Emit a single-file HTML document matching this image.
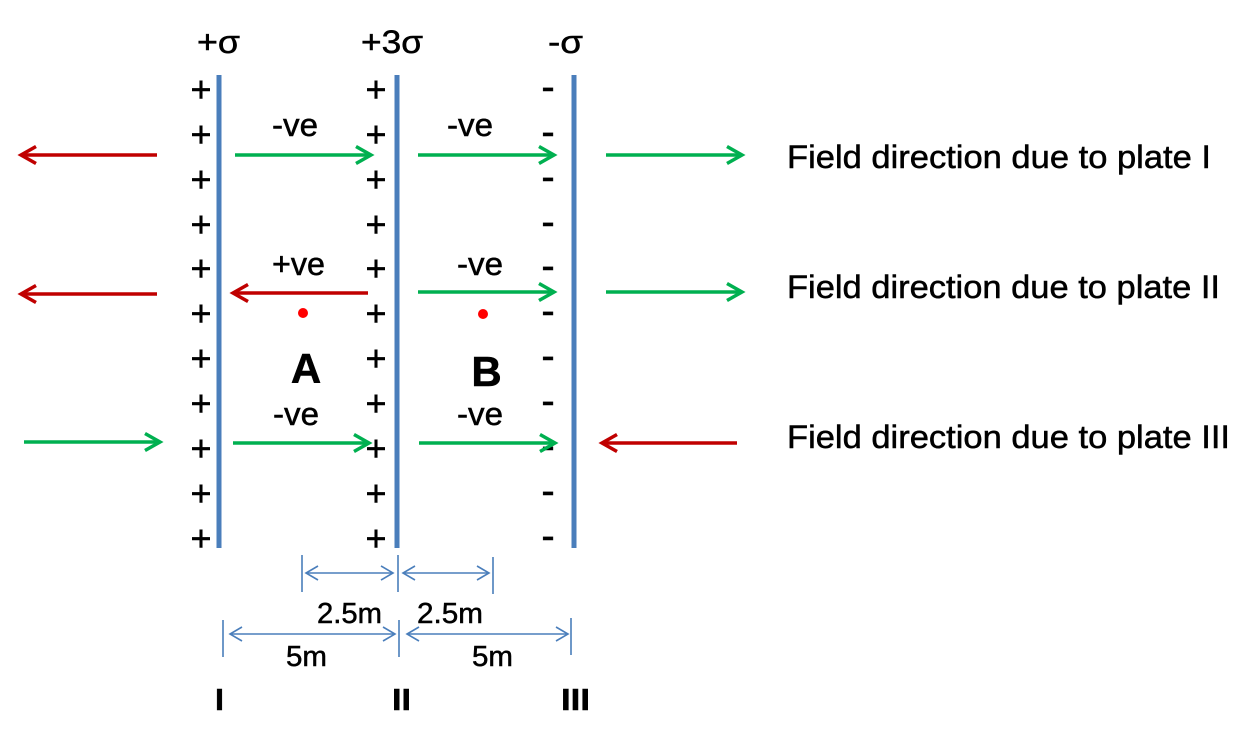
<!DOCTYPE html>
<html><head><meta charset="utf-8"><style>
html,body{margin:0;padding:0;background:#fff;}
svg{display:block;}
text{font-family:"Liberation Sans",sans-serif;fill:#000;stroke:#000;stroke-width:0.5;}
</style></head><body>
<svg width="1257" height="729" viewBox="0 0 1257 729" xmlns="http://www.w3.org/2000/svg">
<rect width="1257" height="729" fill="#fff"/>
<!-- plates -->
<rect x="216.5" y="75" width="5" height="473" fill="#4a7ebb"/>
<rect x="394.5" y="75" width="5" height="473" fill="#4a7ebb"/>
<rect x="571.5" y="75" width="5" height="473" fill="#4a7ebb"/>

<!-- top labels -->
<text x="197" y="53" font-size="32" textLength="43" lengthAdjust="spacingAndGlyphs">+σ</text>
<text x="361" y="53" font-size="32" textLength="62" lengthAdjust="spacingAndGlyphs">+3σ</text>
<text x="548" y="53" font-size="32" textLength="35" lengthAdjust="spacingAndGlyphs">-σ</text>

<!-- plus / minus signs -->
<g font-size="36" text-anchor="middle">
<text x="201" y="101.5">+</text><text x="201" y="146.5">+</text><text x="201" y="191.5">+</text><text x="201" y="236.5">+</text><text x="201" y="280.5">+</text><text x="201" y="325.5">+</text><text x="201" y="370.5">+</text><text x="201" y="415.5">+</text><text x="201" y="460.5">+</text><text x="201" y="505.5">+</text><text x="201" y="550.5">+</text>
<text x="376" y="101.5">+</text><text x="376" y="146.5">+</text><text x="376" y="191.5">+</text><text x="376" y="236.5">+</text><text x="376" y="280.5">+</text><text x="376" y="325.5">+</text><text x="376" y="370.5">+</text><text x="376" y="415.5">+</text><text x="376" y="460.5">+</text><text x="376" y="505.5">+</text><text x="376" y="550.5">+</text>
</g>
<g font-size="40" text-anchor="middle">
<text x="548" y="100">-</text><text x="548" y="145">-</text><text x="548" y="190">-</text><text x="548" y="235">-</text><text x="548" y="279">-</text><text x="548" y="324">-</text><text x="548" y="369">-</text><text x="548" y="414">-</text><text x="548" y="459">-</text><text x="548" y="504">-</text><text x="548" y="549">-</text>
</g>

<!-- ve labels -->
<g font-size="32">
<text x="272" y="136" textLength="46" lengthAdjust="spacingAndGlyphs">-ve</text>
<text x="272" y="275" textLength="53" lengthAdjust="spacingAndGlyphs">+ve</text>
<text x="273" y="425" textLength="46" lengthAdjust="spacingAndGlyphs">-ve</text>
<text x="447" y="136" textLength="46" lengthAdjust="spacingAndGlyphs">-ve</text>
<text x="457" y="275" textLength="46" lengthAdjust="spacingAndGlyphs">-ve</text>
<text x="457" y="425" textLength="46" lengthAdjust="spacingAndGlyphs">-ve</text>
</g>

<!-- A / B -->
<text x="306" y="383" font-size="42" font-weight="bold" text-anchor="middle">A</text>
<text x="486.5" y="386" font-size="42" font-weight="bold" text-anchor="middle">B</text>
<circle cx="303" cy="313" r="5" fill="#ff0000"/>
<circle cx="483" cy="314" r="5" fill="#ff0000"/>

<!-- field arrows -->
<g fill="none" stroke-width="3.5" stroke-linecap="butt" stroke-linejoin="miter">
<g stroke="#c00000">
<line x1="157" y1="155" x2="22" y2="155"/><polyline points="36,146.5 21,155 36,163.5"/>
</g>
<g stroke="#00b050">
<line x1="235" y1="155" x2="370" y2="155"/><polyline points="356,146.5 371,155 356,163.5"/>
<line x1="418" y1="155" x2="553" y2="155"/><polyline points="539,146.5 554,155 539,163.5"/>
<line x1="606" y1="155" x2="741" y2="155"/><polyline points="727,146.5 742,155 727,163.5"/>
</g>
<g stroke="#c00000">
<line x1="157" y1="294" x2="22" y2="294"/><polyline points="36,285.5 21,294 36,302.5"/>
<line x1="368" y1="293" x2="234" y2="293"/><polyline points="248,284.5 233,293 248,301.5"/>
</g>
<g stroke="#00b050">
<line x1="418" y1="292" x2="553" y2="292"/><polyline points="539,283.5 554,292 539,300.5"/>
<line x1="606" y1="292" x2="741" y2="292"/><polyline points="727,283.5 742,292 727,300.5"/>
</g>
<g stroke="#00b050">
<line x1="24" y1="442" x2="159" y2="442"/><polyline points="145,433.5 160,442 145,450.5"/>
<line x1="233" y1="443" x2="368" y2="443"/><polyline points="354,434.5 369,443 354,451.5"/>
<line x1="419" y1="443" x2="554" y2="443"/><polyline points="540,434.5 555,443 540,451.5"/>
</g>
<g stroke="#c00000">
<line x1="737" y1="443" x2="603" y2="443"/><polyline points="617,434.5 602,443 617,451.5"/>
</g>
</g>

<!-- right labels -->
<g font-size="32">
<text x="787" y="168" textLength="424" lengthAdjust="spacingAndGlyphs">Field direction due to plate I</text>
<text x="787" y="298" textLength="433" lengthAdjust="spacingAndGlyphs">Field direction due to plate II</text>
<text x="787" y="448" textLength="443" lengthAdjust="spacingAndGlyphs">Field direction due to plate III</text>
</g>

<!-- dimension lines -->
<g fill="none" stroke="#4a7ebb" stroke-width="1.6">
<line x1="302" y1="555" x2="302" y2="592"/>
<line x1="398" y1="555" x2="398" y2="592"/>
<line x1="493" y1="557" x2="493" y2="594"/>
<line x1="306" y1="573" x2="393" y2="573"/>
<polyline points="318,566 306,573 318,580"/><polyline points="381,566 393,573 381,580"/>
<line x1="403" y1="573" x2="489" y2="573"/>
<polyline points="415,566 403,573 415,580"/><polyline points="477,566 489,573 477,580"/>

<line x1="223" y1="620" x2="223" y2="657"/>
<line x1="399" y1="620" x2="399" y2="657"/>
<line x1="571" y1="618" x2="571" y2="655"/>
<line x1="230" y1="634" x2="395" y2="634"/>
<polyline points="242,627 230,634 242,641"/><polyline points="383,627 395,634 383,641"/>
<line x1="407" y1="634" x2="568" y2="634"/>
<polyline points="419,627 407,634 419,641"/><polyline points="556,627 568,634 556,641"/>
</g>
<g font-size="29">
<text x="317" y="623" textLength="65" lengthAdjust="spacingAndGlyphs">2.5m</text>
<text x="417" y="623" textLength="66" lengthAdjust="spacingAndGlyphs">2.5m</text>
<text x="286" y="666" textLength="41" lengthAdjust="spacingAndGlyphs">5m</text>
<text x="472" y="666" textLength="41" lengthAdjust="spacingAndGlyphs">5m</text>
</g>

<!-- roman labels -->
<g font-size="31" font-weight="bold" style="stroke-width:1.5">
<text x="215" y="710" textLength="9" lengthAdjust="spacingAndGlyphs">I</text>
<text x="392" y="710" textLength="19" lengthAdjust="spacingAndGlyphs">II</text>
<text x="561" y="710" textLength="29" lengthAdjust="spacingAndGlyphs">III</text>
</g>
</svg>
</body></html>
